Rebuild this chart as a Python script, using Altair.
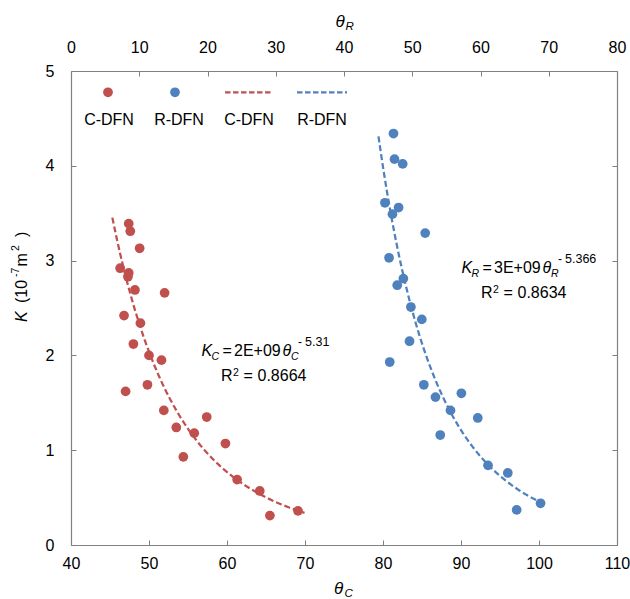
import altair as alt
import pandas as pd

# C-DFN samples, plotted against the bottom axis (theta_C)
theta_c = [47.4, 47.6, 48.8, 46.3, 47.4, 47.3, 48.2, 52.0, 46.8, 48.9, 48.0, 50.0, 51.6,
           47.0, 49.8, 51.9, 57.4, 53.5, 55.8, 59.8, 54.4, 61.3, 64.2, 65.5, 69.1]
k_c = [3.39, 3.31, 3.13, 2.92, 2.87, 2.83, 2.69, 2.66, 2.42, 2.34, 2.12, 2.00, 1.95,
       1.62, 1.69, 1.42, 1.35, 1.24, 1.18, 1.07, 0.93, 0.69, 0.57, 0.31, 0.36]

# R-DFN samples, plotted against the top axis (theta_R)
theta_r = [47.25, 47.4, 48.6, 46.0, 48.0, 47.1, 51.9, 46.6, 48.7, 47.8, 49.8, 51.4,
           49.6, 46.7, 51.7, 53.4, 57.2, 55.6, 59.6, 54.1, 61.1, 64.0, 65.3, 68.8]
k_r = [4.34, 4.07, 4.02, 3.61, 3.56, 3.49, 3.29, 3.03, 2.81, 2.74, 2.51, 2.38,
       2.15, 1.93, 1.69, 1.56, 1.60, 1.42, 1.34, 1.16, 0.84, 0.76, 0.37, 0.44]

# axis ticks
ticks_c = [40, 50, 60, 70, 80, 90, 100, 110]
ticks_r = [0, 10, 20, 30, 40, 50, 60, 70, 80]
ticks_k = [0, 1, 2, 3, 4, 5]

# range covered by each power-law trendline
fit_range_c = [45.3, 69.94]
fit_range_r = [45.05, 69.7]

legend_labels = ["C-DFN", "R-DFN", "C-DFN", "R-DFN"]

RED = "#C0504D"
BLUE = "#4F81BD"
GRAY = "#808080"
FONT = "Liberation Sans"
LEFT, TOP, W, H = 71, 71, 546, 474

df_c = pd.DataFrame({"theta_c": theta_c, "k": k_c})
df_r = pd.DataFrame({"theta_r": theta_r, "k": k_r})


def make_axis(orient, values, pad, labels=True):
    return alt.Axis(
        orient=orient, values=values, labels=labels, grid=False, title=None,
        format="d",
        tickSize=alt.ExprRef("-5"), tickColor=GRAY, tickWidth=1,
        domainColor=GRAY, domainWidth=1.2,
        labelFont=FONT, labelFontSize=16, labelColor="#000000",
        labelPadding=pad, labelFlush=False, labelOverlap=False,
    )


y_scale = alt.Scale(domain=[0, 5], nice=False, zero=False)

# --- C-DFN: bottom / left axes
red_points = alt.Chart(df_c).mark_circle(size=95, color=RED, opacity=1).encode(
    x=alt.X("theta_c:Q", scale=alt.Scale(domain=[40, 110], nice=False, zero=False),
            axis=make_axis("bottom", ticks_c, 15)),
    y=alt.Y("k:Q", scale=y_scale, axis=make_axis("left", ticks_k, 22)),
)
red_fit = alt.Chart(df_c).transform_regression(
    "theta_c", "k", method="pow", extent=fit_range_c
).mark_line(color=RED, strokeDash=[6, 3], strokeWidth=2.25).encode(
    x="theta_c:Q", y="k:Q"
)
red_layer = alt.layer(red_points, red_fit)

# --- R-DFN: top / right axes
blue_points = alt.Chart(df_r).mark_circle(size=95, color=BLUE, opacity=1).encode(
    x=alt.X("theta_r:Q", scale=alt.Scale(domain=[0, 80], nice=False, zero=False),
            axis=make_axis("top", ticks_r, 21)),
    y=alt.Y("k:Q", scale=y_scale, axis=make_axis("right", ticks_k, 10, labels=False)),
)
blue_fit = alt.Chart(df_r).transform_regression(
    "theta_r", "k", method="pow", extent=fit_range_r
).mark_line(color=BLUE, strokeDash=[6, 3], strokeWidth=2.25).encode(
    x="theta_r:Q", y="k:Q"
)
blue_layer = alt.layer(blue_points, blue_fit)


def txt(s, x, y, size=16, italic=False, angle=0, align="left", color="#000000"):
    return alt.Chart(alt.Data(values=[{}])).mark_text(
        text=s, font=FONT, fontSize=size, fontStyle="italic" if italic else "normal",
        align=align, baseline="alphabetic", angle=angle, color=color,
    ).encode(x=alt.value(x - LEFT), y=alt.value(y - TOP))


def dot(x, y, color):
    return alt.Chart(alt.Data(values=[{}])).mark_circle(size=95, color=color, opacity=1).encode(
        x=alt.value(x - LEFT), y=alt.value(y - TOP))


def dash(x1, x2, y, color):
    return alt.Chart(alt.Data(values=[{}])).mark_rule(
        color=color, strokeDash=[5.5, 2.5], strokeWidth=2.25).encode(
        x=alt.value(x1 - LEFT), x2=alt.value(x2 - LEFT), y=alt.value(y - TOP))


def equation(name, coef, exponent, r2, x, y):
    """Trendline label: K_name = coef theta_name^exponent, with R^2 on a second line."""
    return [
        txt("K", x, y, italic=True), txt(name, x + 10, y + 4, 10.5, italic=True),
        txt("=", x + 21, y), txt(coef, x + 32.5, y),
        txt("θ", x + 81, y, italic=True), txt(name, x + 89.5, y + 4, 10.5, italic=True),
        txt("-", x + 96.5, y - 10, 12), txt(exponent, x + 103.5, y - 10, 12.5),
        txt("R", x + 19.5, y + 25), txt("2", x + 31.5, y + 19.5, 10.5),
        txt("=", x + 42, y + 25), txt(r2, x + 56, y + 25),
    ]


extras = [
    # legend
    dot(108, 92.3, RED), dot(175, 92.3, BLUE),
    dash(225, 273, 92.3, RED), dash(297, 347, 92.3, BLUE),
    txt(legend_labels[0], 109, 125, align="center"),
    txt(legend_labels[1], 179, 125, align="center"),
    txt(legend_labels[2], 249, 125, align="center"),
    txt(legend_labels[3], 322, 125, align="center"),
]
extras += equation("C", "2E+09", "5.31", "0.8664", 201.5, 356)
extras += equation("R", "3E+09", "5.366", "0.8634", 461.5, 273)
extras += [
    # axis titles
    txt("θ", 335.5, 26.7, 17, italic=True), txt("R", 345.5, 30, 11.5, italic=True),
    txt("θ", 334, 594, 17, italic=True), txt("C", 344.5, 596.5, 11.5, italic=True),
    txt("K", 26.7, 322, italic=True, angle=270),
    txt("(10", 26.7, 303, angle=270),
    txt("-7", 19, 277, 10.5, angle=270),
    txt("m", 26.7, 266.5, angle=270),
    txt("2", 19, 251, 10.5, angle=270),
    txt(")", 26.7, 237, angle=270),
]

chart = alt.layer(red_layer, blue_layer, *extras).resolve_scale(
    x="independent", y="independent"
).properties(
    width=W, height=H,
    autosize=alt.AutoSizeParams(type="none"),
    padding={"left": LEFT, "top": TOP, "right": 630 - LEFT - W, "bottom": 599 - TOP - H},
).configure_view(stroke=None)

chart.save("out.html", embed_options={"renderer": "svg", "actions": False})
